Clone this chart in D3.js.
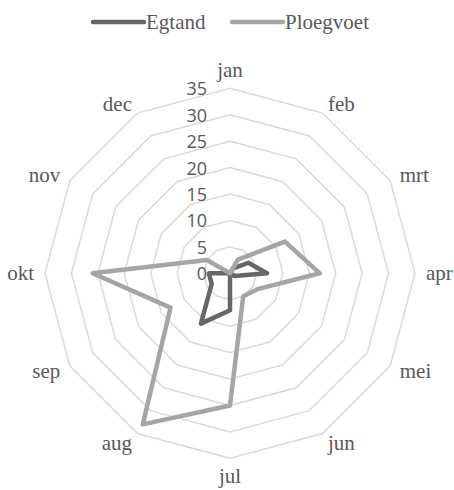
<!DOCTYPE html>
<html>
<head>
<meta charset="utf-8">
<script src="https://cdn.jsdelivr.net/npm/d3@7"></script>
<style>
  body { margin: 0; background: #fff; }
  svg { display: block; }
</style>
</head>
<body>
<svg width="454" height="490"></svg>
<script>
// months on the spokes, starting at the top and going clockwise
const months = ['jan', 'feb', 'mrt', 'apr', 'mei', 'jun', 'jul', 'aug', 'sep', 'okt', 'nov', 'dec'];
const egtand = [0, 1, 4, 7, 1, 0, 7, 11, 4, 4, 0, 0];
const ploegvoet = [0, 3, 12, 17, 6, 5, 25, 33, 13, 26, 5, 0];
const ticks = [0, 5, 10, 15, 20, 25, 30, 35];
const seriesNames = ['Egtand', 'Ploegvoet'];
const seriesColors = ['#666666', '#a5a5a5'];

const svg = d3.select('svg');
const cx = 230, cy = 273.3, radius = 185;

const angle = d3.scalePoint().domain(months).range([0, 2 * Math.PI * 11 / 12]);
const r = d3.scaleLinear().domain([0, 35]).range([0, radius]);

function pt(m, v) {
  const a = angle(m);
  return [cx + Math.sin(a) * r(v), cy - Math.cos(a) * r(v)];
}

// grid rings
const ring = d3.line().curve(d3.curveLinearClosed);
svg.append('g').selectAll('path')
  .data(ticks.slice(1))
  .enter()
  .append('path')
  .attr('d', t => ring(months.map(m => pt(m, t))))
  .attr('fill', 'none')
  .attr('stroke', '#d9d9d9')
  .attr('stroke-width', 1.5);

// value labels on the jan spoke
svg.append('g').selectAll('text')
  .data(ticks)
  .enter()
  .append('text')
  .attr('x', cx - 23)
  .attr('y', t => cy - r(t))
  .attr('text-anchor', 'end')
  .attr('dominant-baseline', 'central')
  .attr('font-family', '"Open Sans", sans-serif')
  .attr('font-size', 18)
  .attr('fill', '#595959')
  .text(t => t);

// month labels
svg.append('g').selectAll('text')
  .data(months)
  .enter()
  .append('text')
  .each(function (m) {
    const a = angle(m);
    const sx = Math.sin(a), sy = -Math.cos(a);
    let x = cx + sx * (radius + 11);
    let y = cy + sy * (radius + 11);
    let anchor = 'middle';
    if (sx > 0.1) anchor = 'start';
    else if (sx < -0.1) anchor = 'end';
    else y += sy * 7;
    d3.select(this)
      .attr('x', x)
      .attr('y', y)
      .attr('text-anchor', anchor);
  })
  .attr('dominant-baseline', 'central')
  .attr('font-family', '"Liberation Serif", "Times New Roman", serif')
  .attr('font-size', 21)
  .attr('fill', '#595959')
  .text(m => m);

// series
const seriesData = [egtand, ploegvoet];
svg.append('g').selectAll('path')
  .data(seriesData)
  .enter()
  .append('path')
  .attr('d', vals => ring(months.map((m, i) => pt(m, vals[i]))))
  .attr('fill', 'none')
  .attr('stroke', (d, i) => seriesColors[i])
  .attr('stroke-width', 4.5)
  .attr('stroke-linejoin', 'round')
  .attr('stroke-linecap', 'round');

// legend
const legendX = [93, 232];
const legend = svg.append('g').selectAll('g')
  .data(seriesNames)
  .enter()
  .append('g')
  .attr('transform', (d, i) => `translate(${legendX[i]},22)`);
legend.append('line')
  .attr('x1', 0).attr('x2', 51)
  .attr('y1', 0).attr('y2', 0)
  .attr('stroke', (d, i) => seriesColors[i])
  .attr('stroke-width', 4.5)
  .attr('stroke-linecap', 'round');
legend.append('text')
  .attr('x', 53)
  .attr('y', 0)
  .attr('dominant-baseline', 'central')
  .attr('font-family', '"Liberation Serif", "Times New Roman", serif')
  .attr('font-size', 21)
  .attr('fill', '#595959')
  .text(d => d);
</script>
</body>
</html>
